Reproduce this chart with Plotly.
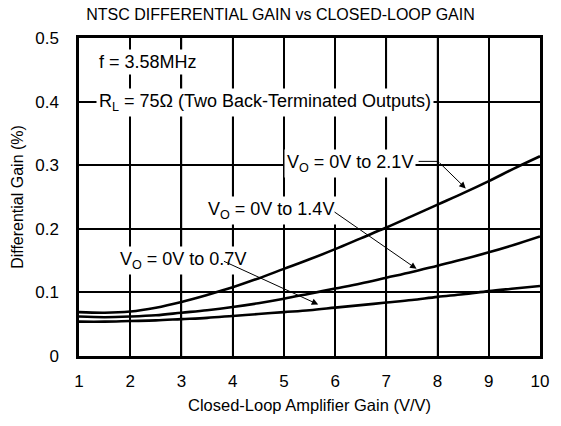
import plotly.graph_objects as go

gain = [1, 1.5, 2, 2.5, 3, 3.5, 4, 4.5, 5, 5.5, 6, 6.5, 7, 7.5, 8, 8.5, 9, 9.5, 10]
dg_21 = [0.069, 0.068, 0.070, 0.076, 0.085, 0.096, 0.108, 0.122, 0.137, 0.152, 0.168,
         0.185, 0.202, 0.220, 0.238, 0.256, 0.275, 0.295, 0.314]
dg_14 = [0.062, 0.061, 0.062, 0.064, 0.068, 0.072, 0.077, 0.083, 0.090, 0.098, 0.106,
         0.114, 0.123, 0.132, 0.142, 0.152, 0.163, 0.175, 0.188]
dg_07 = [0.054, 0.054, 0.055, 0.056, 0.058, 0.060, 0.063, 0.066, 0.069, 0.072, 0.076,
         0.080, 0.084, 0.088, 0.093, 0.097, 0.102, 0.106, 0.110]

x_ticks = [1, 2, 3, 4, 5, 6, 7, 8, 9, 10]
y_ticks = [0, 0.1, 0.2, 0.3, 0.4, 0.5]
y_tick_labels = ["0", "0.1", "0.2", "0.3", "0.4", "0.5"]

FONT = "Liberation Sans, Arial, sans-serif"
FS = 17
FA = 18

fig = go.Figure()

for ys in (dg_07, dg_14, dg_21):
    fig.add_trace(go.Scatter(x=gain, y=ys, mode="lines",
                             line=dict(color="black", width=2.6, shape="spline"),
                             showlegend=False, hoverinfo="skip"))

# labels: (text, x, y, leader start x, leader bend x, leader y, tip x, tip y)
labels = [
    ("V<sub>O</sub> = 0V to 2.1V", 6.29, 0.303, 7.63, 8.01, 0.306, 8.55, 0.2635),
    ("V<sub>O</sub> = 0V to 1.4V", 4.75, 0.229, 5.71, 5.96, 0.228, 7.59, 0.137),
    ("V<sub>O</sub> = 0V to 0.7V", 3.04, 0.150, 3.41, 3.80, 0.150, 5.67, 0.081),
]
annotations = []
shapes = []

# vertical grid lines at the x ticks
for xv in x_ticks[1:-1]:
    shapes.append(dict(type="line", xref="x", yref="y", x0=xv, x1=xv,
                       y0=y_ticks[0], y1=y_ticks[-1],
                       line=dict(color="black", width=1.5), layer="below"))

for txt, lx, ly, sx, bx, by, tx, ty in labels:
    annotations.append(dict(x=lx, y=ly, xref="x", yref="y", text=txt, showarrow=False,
                            bgcolor="white", borderpad=2,
                            font=dict(family=FONT, size=FA, color="black")))
    shapes.append(dict(type="line", xref="x", yref="y", x0=sx, y0=by, x1=bx, y1=by,
                       line=dict(color="black", width=1), layer="above"))
    annotations.append(dict(x=tx, y=ty, ax=bx, ay=by, xref="x", yref="y",
                            axref="x", ayref="y", text="", showarrow=True,
                            arrowhead=2, arrowsize=1.3, arrowwidth=1, arrowcolor="black"))

annotations.append(dict(x=1.34, y=0.462, xref="x", yref="y", xanchor="left",
                        text="f = 3.58MHz", showarrow=False, bgcolor="white", borderpad=2,
                        font=dict(family=FONT, size=FA, color="black")))
annotations.append(dict(x=1.34, y=0.399, xref="x", yref="y", xanchor="left",
                        text="R<sub>L</sub> = 75Ω (Two Back-Terminated Outputs)",
                        showarrow=False, bgcolor="white", borderpad=2,
                        font=dict(family=FONT, size=FA, color="black")))

fig.update_layout(
    width=561, height=426,
    margin=dict(l=79, r=12, t=38, b=70),
    paper_bgcolor="white", plot_bgcolor="white",
    title=dict(text="NTSC DIFFERENTIAL GAIN vs CLOSED-LOOP GAIN", x=0.5, xanchor="center",
               y=0.967, yanchor="middle", font=dict(family=FONT, size=16, color="black")),
    font=dict(family=FONT, size=FS, color="black"),
    annotations=annotations, shapes=shapes,
)
fig.update_xaxes(range=[1, 10], tickvals=x_ticks, showgrid=True, gridcolor="#000000",
                 gridwidth=1.5,
                 showline=True, linecolor="black", linewidth=2.5, mirror=True,
                 ticks="outside", ticklen=8, tickcolor="white", zeroline=False,
                 title=dict(text="Closed-Loop Amplifier Gain (V/V)", standoff=10,
                            font=dict(family=FONT, size=16.5)),
                 tickfont=dict(family=FONT, size=FS))
fig.update_yaxes(range=[0, 0.5], tickvals=y_ticks, ticktext=y_tick_labels, showgrid=True,
                 gridcolor="#000000", gridwidth=1.5,
                 showline=True, linecolor="black",
                 linewidth=2.5, mirror=True, ticks="outside", ticklen=14, tickcolor="white",
                 zeroline=False,
                 title=dict(text="Differential Gain (%)", standoff=8,
                            font=dict(family=FONT, size=16)),
                 tickfont=dict(family=FONT, size=FS))

fig.write_html("out.html", config={"displayModeBar": False},
               post_script="document.body.style.margin='0';")
